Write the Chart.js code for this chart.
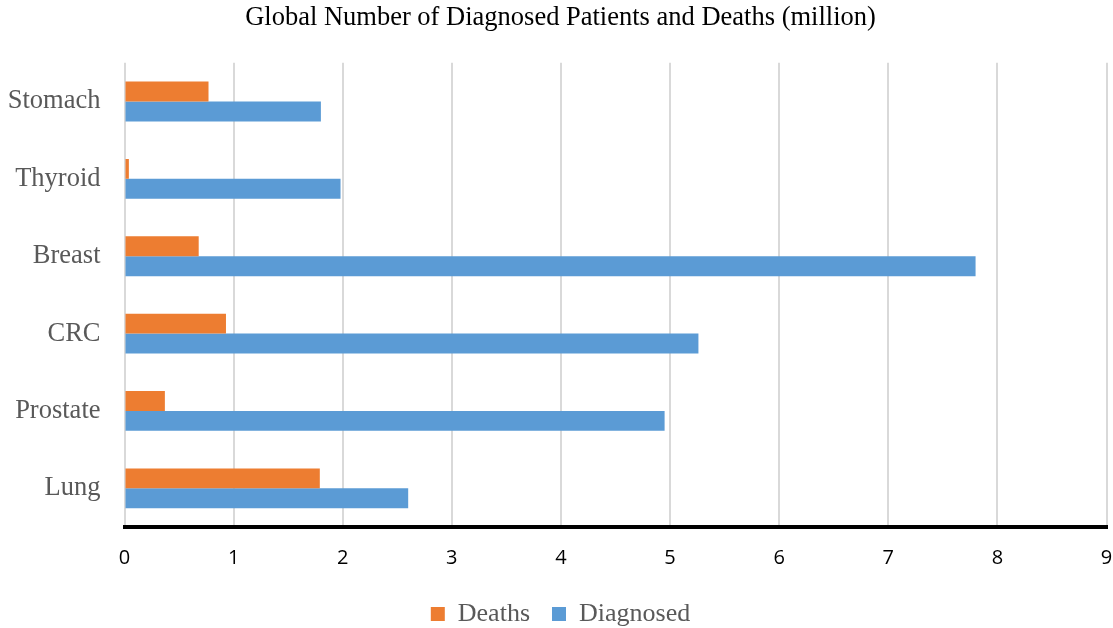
<!DOCTYPE html>
<html>
<head>
<meta charset="utf-8">
<script src="https://cdn.jsdelivr.net/npm/chart.js@4"></script>
<style>
  html, body { margin: 0; padding: 0; background: #fff; }
  #wrap { width: 1113px; height: 628px; }
</style>
</head>
<body>
<div id="wrap"><canvas id="chart"></canvas></div>
<script>
let labels = ['Stomach', 'Thyroid', 'Breast', 'CRC', 'Prostate', 'Lung'];
let deaths_data = [0.77, 0.04, 0.68, 0.93, 0.37, 1.79];
let diagnosed_data = [1.80, 1.98, 7.80, 5.26, 4.95, 2.60];
let x_ticks = [0, 1, 2, 3, 4, 5, 6, 7, 8, 9];

let serif = '"Liberation Serif", "Times New Roman", serif';
let sans = '"Open Sans", "Liberation Sans", sans-serif';

let ctx = document.getElementById('chart').getContext('2d');

let myChart = new Chart(ctx, {
    type: 'bar',
    data: {
        labels: labels,
        datasets: [{
            label: 'Deaths',
            data: deaths_data,
            backgroundColor: '#ED7D31',
            barPercentage: 1,
            categoryPercentage: 0.515
        }, {
            label: 'Diagnosed',
            data: diagnosed_data,
            backgroundColor: '#5B9BD5',
            barPercentage: 1,
            categoryPercentage: 0.515
        }]
    },
    options: {
        indexAxis: 'y',
        responsive: true,
        maintainAspectRatio: false,
        animation: false,
        layout: {
            padding: { left: 8, right: 0, top: 0, bottom: -9 }
        },
        scales: {
            x: {
                min: 0,
                max: 9,
                afterBuildTicks: (axis) => {
                    axis.ticks = x_ticks.map(v => ({ value: v }));
                },
                // keep the plot close to the canvas edges like the original
                afterFit: (axis) => {
                    axis.paddingLeft = 0;
                    axis.paddingRight = 6.5;
                    axis.height -= 10;
                },
                grid: {
                    color: '#d9d9d9',
                    lineWidth: 2,
                    drawTicks: false
                },
                border: {
                    display: true,
                    color: '#000',
                    width: 4
                },
                ticks: {
                    padding: 19,
                    color: '#000',
                    font: { family: sans, size: 20 }
                }
            },
            y: {
                afterFit: (axis) => {
                    axis.width = 116.5;
                },
                grid: { display: false, drawTicks: false },
                border: { display: false },
                ticks: {
                    padding: 24,
                    color: '#595959',
                    font: { family: serif, size: 26.5 }
                }
            }
        },
        plugins: {
            title: {
                display: true,
                text: 'Global Number of Diagnosed Patients and Deaths (million)',
                color: '#000',
                font: { family: serif, size: 26.5, weight: 'normal' },
                padding: { top: 2, bottom: 29 }
            },
            legend: {
                position: 'bottom',
                labels: {
                    color: '#595959',
                    font: { family: serif, size: 26 },
                    boxWidth: 14,
                    boxHeight: 14,
                    padding: 22
                }
            },
            tooltip: { enabled: false }
        }
    }
});
</script>
</body>
</html>
